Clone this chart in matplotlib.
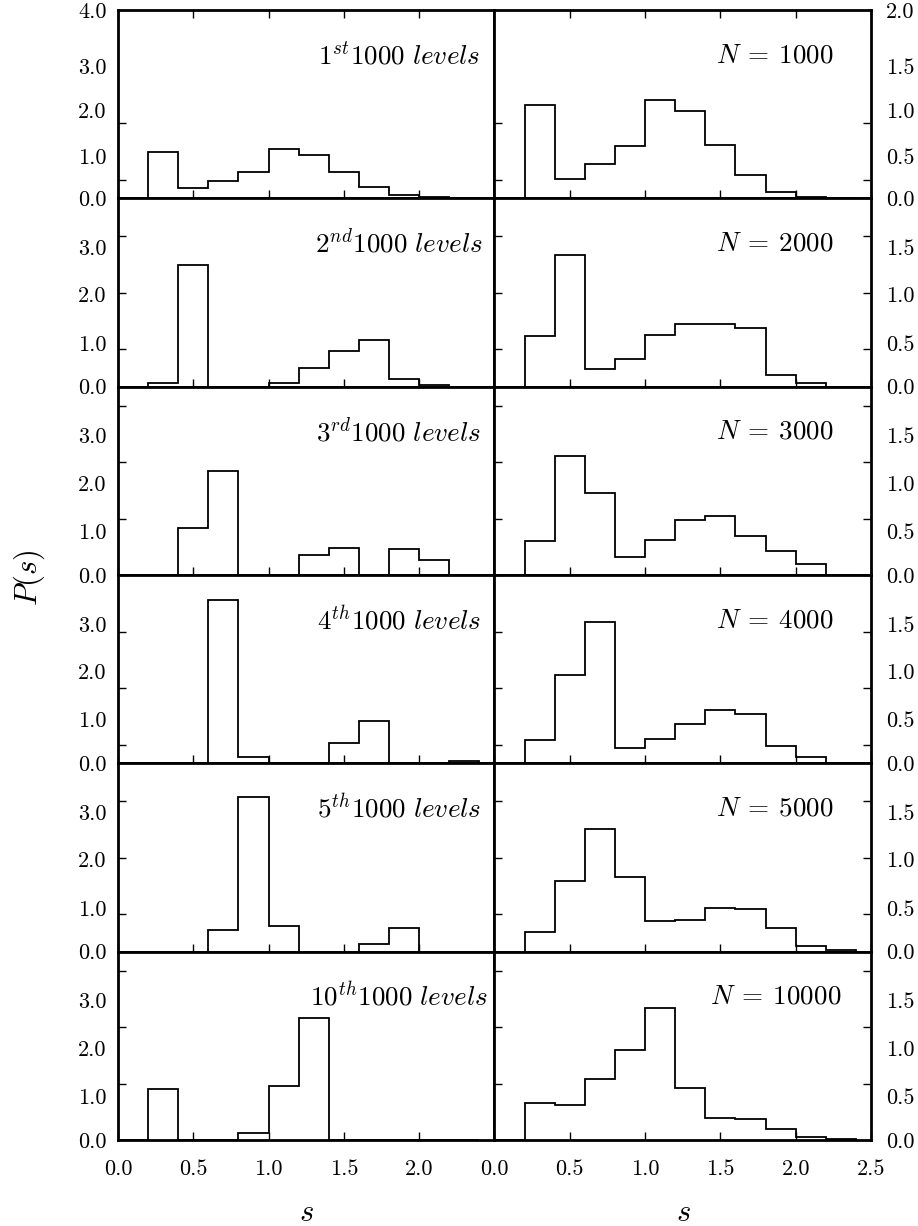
import numpy as np
import matplotlib
matplotlib.use("Agg")
import matplotlib.pyplot as plt
from matplotlib.ticker import FixedLocator, NullFormatter

plt.rcParams['font.family'] = 'serif'
plt.rcParams['font.serif'] = ['cmr10']
plt.rcParams['mathtext.fontset'] = 'cm'
plt.rcParams['axes.unicode_minus'] = False

# bin edges of spacing s (width 0.2)
edges = np.round(np.arange(0, 2.41, 0.2), 2)

# left column: P(s) of single blocks of 1000 levels
block_labels = [r'$1^{st}1000\ levels$', r'$2^{nd}1000\ levels$', r'$3^{rd}1000\ levels$',
                r'$4^{th}1000\ levels$', r'$5^{th}1000\ levels$', r'$10^{th}1000\ levels$']
block_1 = [0, 0.99, 0.21, 0.37, 0.57, 1.04, 0.93, 0.57, 0.25, 0.07, 0.03, 0]
block_2 = [0, 0.08, 2.59, 0, 0, 0.07, 0.40, 0.76, 0.99, 0.16, 0.035, 0]
block_3 = [0, 0, 0.99, 2.21, 0, 0, 0.43, 0.57, 0, 0.55, 0.31, 0]
block_4 = [0, 0, 0, 3.48, 0.13, 0, 0, 0.43, 0.90, 0, 0, 0.05]
block_5 = [0, 0, 0, 0.46, 3.28, 0.55, 0, 0, 0.16, 0.50, 0, 0]
block_10 = [0, 1.09, 0, 0, 0.16, 1.15, 2.59, 0, 0, 0, 0, 0]
blocks = [block_1, block_2, block_3, block_4, block_5, block_10]

# right column: P(s) of the first N levels
cum_labels = [r'$N\:=\:1000$', r'$N\:=\:2000$', r'$N\:=\:3000$',
              r'$N\:=\:4000$', r'$N\:=\:5000$', r'$N\:=\:10000$']
cum_1000 = [0, 0.99, 0.21, 0.37, 0.56, 1.04, 0.93, 0.57, 0.25, 0.07, 0.02, 0]
cum_2000 = [0, 0.54, 1.40, 0.19, 0.29, 0.55, 0.67, 0.67, 0.62, 0.12, 0.035, 0]
cum_3000 = [0, 0.36, 1.26, 0.87, 0.19, 0.37, 0.58, 0.63, 0.41, 0.26, 0.12, 0]
cum_4000 = [0, 0.25, 0.94, 1.50, 0.16, 0.26, 0.42, 0.57, 0.52, 0.18, 0.07, 0.007]
cum_5000 = [0, 0.21, 0.75, 1.30, 0.79, 0.33, 0.34, 0.46, 0.45, 0.25, 0.064, 0.014]
cum_10000 = [0, 0.39, 0.37, 0.65, 0.96, 1.40, 0.55, 0.23, 0.22, 0.12, 0.035, 0.007]
cums = [cum_1000, cum_2000, cum_3000, cum_4000, cum_5000, cum_10000]

left_ticklabels_top = ['0.0', '1.0', '2.0', '3.0', '4.0']
left_ticklabels = ['0.0', '1.0', '2.0', '3.0']
right_ticklabels_top = ['0.0', '0.5', '1.0', '1.5', '2.0']
right_ticklabels = ['0.0', '0.5', '1.0', '1.5']
left_xticklabels = ['0.0', '0.5', '1.0', '1.5', '2.0']
right_xticklabels = ['0.0', '0.5', '1.0', '1.5', '2.0', '2.5']

# where the labels sit (in left-axis units), slightly off the round values
label_pos_top = [0, 0.9, 1.87, 2.8, 4.0]
label_pos = [0, 0.93, 1.96, 2.96]

nrows = 6
fig, axes = plt.subplots(nrows, 2, figsize=(9.18, 12.26), dpi=100, sharex='col')
fig.subplots_adjust(left=0.1285, right=0.9488, top=0.9918, bottom=0.0701,
                    hspace=0, wspace=0)

tick_fs = 16
for r in range(nrows):
    axl, axr = axes[r]
    axl.stairs(blocks[r], edges, color='black', lw=1.3)
    axr.stairs(cums[r], edges, color='black', lw=1.3)
    axl.set_ylim(0, 4.0)
    axr.set_ylim(0, 2.0)
    for ax in (axl, axr):
        ax.set_xlim(0, 2.5)
        for sp in ax.spines.values():
            sp.set_linewidth(2.0)

    # tick marks on a regular grid running through the whole column
    i = nrows - 1 - r
    span = 20 / nrows
    fracs = [(k - i * span) / span for k in range(21)]
    fracs = [f for f in fracs if 1e-6 < f <= 1 + 1e-6]
    axl.yaxis.set_minor_locator(FixedLocator([f * 4.0 for f in fracs]))
    axr.yaxis.set_minor_locator(FixedLocator([f * 2.0 for f in fracs]))
    axl.yaxis.set_minor_formatter(NullFormatter())
    axr.yaxis.set_minor_formatter(NullFormatter())

    if r == 0:
        pos = label_pos_top
        axl.set_yticks(pos, left_ticklabels_top)
        axr.set_yticks([p / 2 for p in pos], right_ticklabels_top)
    else:
        pos = label_pos
        axl.set_yticks(pos, left_ticklabels)
        axr.set_yticks([p / 2 for p in pos], right_ticklabels)

    axl.tick_params(axis='y', which='major', length=0, labelsize=tick_fs, pad=8)
    axl.tick_params(axis='y', which='minor', direction='in', length=5.5, width=1.0,
                    left=True, right=False)
    axr.tick_params(axis='y', which='major', length=0, labelsize=tick_fs, pad=11,
                    left=False, right=True, labelleft=False, labelright=True)
    axr.tick_params(axis='y', which='minor', direction='in', length=5.5, width=1.0,
                    left=True, right=True)

    for ax in (axl, axr):
        ax.tick_params(axis='x', which='major', direction='in', length=5.5, width=1.0,
                       bottom=True, top=(r == 0), labelsize=tick_fs, pad=14)

    axl.text(0.746, 0.76, block_labels[r], transform=axl.transAxes,
             ha='center', va='center', fontsize=19.5)
    axr.text(0.746, 0.76, cum_labels[r], transform=axr.transAxes,
             ha='center', va='center', fontsize=19.5)

axes[-1][0].set_xticks([0, 0.5, 1.0, 1.5, 2.0], left_xticklabels)
axes[-1][1].set_xticks([0, 0.5, 1.0, 1.5, 2.0, 2.5], right_xticklabels)

fig.text(0.0316, 0.529, r'$P(s)$', rotation=90, ha='center', va='center', fontsize=22)
fig.text(0.334, 0.0106, r'$s$', ha='center', va='center', fontsize=22)
fig.text(0.744, 0.0106, r'$s$', ha='center', va='center', fontsize=22)

fig.savefig('out.png', dpi=100)
